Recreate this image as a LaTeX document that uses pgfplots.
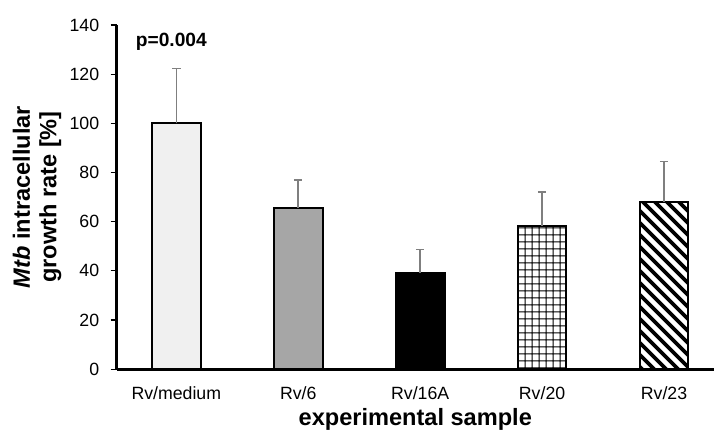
\documentclass[border=0pt]{standalone}
\usepackage{pgfplots}
\pgfplotsset{compat=1.18}
\usetikzlibrary{patterns}
\usepackage{fontspec}
\setmainfont{Liberation Sans}
\definecolor{lightbar}{HTML}{F0F0F0}
\definecolor{midbar}{HTML}{A6A6A6}
\definecolor{errgray}{HTML}{7F7F7F}
\pgfdeclarepatternformonly{mystripes}{\pgfqpoint{0pt}{0pt}}{\pgfqpoint{9pt}{9pt}}{\pgfqpoint{9pt}{9pt}}{%
  \pgfsetlinewidth{2.8pt}%
  \pgfpathmoveto{\pgfqpoint{-1pt}{10pt}}\pgfpathlineto{\pgfqpoint{10pt}{-1pt}}%
  \pgfpathmoveto{\pgfqpoint{-2pt}{2pt}}\pgfpathlineto{\pgfqpoint{2pt}{-2pt}}%
  \pgfpathmoveto{\pgfqpoint{7pt}{11pt}}\pgfpathlineto{\pgfqpoint{11pt}{7pt}}%
  \pgfusepath{stroke}}
\pgfdeclarepatternformonly{mygrid}{\pgfqpoint{0pt}{0pt}}{\pgfqpoint{5.3pt}{5.3pt}}{\pgfqpoint{5.3pt}{5.3pt}}{%
  \pgfsetlinewidth{1pt}%
  \pgfpathmoveto{\pgfqpoint{2.65pt}{-1pt}}\pgfpathlineto{\pgfqpoint{2.65pt}{6.3pt}}%
  \pgfpathmoveto{\pgfqpoint{-1pt}{2.65pt}}\pgfpathlineto{\pgfqpoint{6.3pt}{2.65pt}}%
  \pgfusepath{stroke}}
\begin{document}
\begin{tikzpicture}
\begin{axis}[
  name=ax,
  scale only axis,
  width=448.5pt, height=258.4pt,
  xmin=-0.49, xmax=4.41,
  ymin=0, ymax=140,
  ytick={0,20,...,140},
  xtick={0,1,2,3,4},
  xticklabels={Rv/medium,Rv/6,Rv/16A,Rv/20,Rv/23},
  axis x line=bottom, axis y line=left,
  axis line style={-, line width=2.2pt, black},
  xtick style={draw=none},
  ytick style={black, line width=0.9pt},
  tick align=outside,
  major tick length=4.5pt,
  /pgf/number format/assume math mode=true,
  tick label style={font=\fontsize{13.3}{16}\selectfont},
  yticklabel style={xshift=-5pt},
  xticklabel style={yshift=-5pt},
  xlabel={\textbf{experimental sample}},
  ylabel={\textbf{\textit{Mtb} intracellular}\\\textbf{growth rate [\%]}},
  xlabel style={at={(axis description cs:0.5,-0.163)}, anchor=base, font=\fontsize{17.7}{20}\selectfont},
  ylabel style={at={(axis description cs:-0.133,0.5)}, anchor=center, align=center, font=\fontsize{17.7}{20}\selectfont},
  ybar, bar width=0.4, bar shift=0pt,
  every axis plot/.append style={draw=black, line width=1.5pt},
  error bars/y dir=plus, error bars/y explicit,
  error bars/error bar style={errgray, line width=1.1pt},
  error bars/error mark options={rotate=90, mark size=3.2pt, errgray, line width=1.1pt},
  clip=false,
]
\addplot[fill=lightbar] coordinates {(0,100) +- (0,22.3)};
\addplot[fill=midbar] coordinates {(1,65.5) +- (0,11.4)};
\addplot[fill=black] coordinates {(2,39.3) +- (0,9.3)};
\addplot[pattern=mygrid, pattern color=black] coordinates {(3,58.3) +- (0,13.7)};
\addplot[pattern=mystripes, pattern color=black] coordinates {(4,68.0) +- (0,16.5)};
\node[anchor=west, font=\fontsize{14.4}{17}\selectfont\bfseries] at (axis cs:-0.37,133) {p=0.004};
\end{axis}
\pgfresetboundingbox
\path[use as bounding box] ([shift={(-87.5pt,-48.4pt)}]ax.south west) rectangle ([shift={(0pt,18.75pt)}]ax.north east);
\end{tikzpicture}
\end{document}
